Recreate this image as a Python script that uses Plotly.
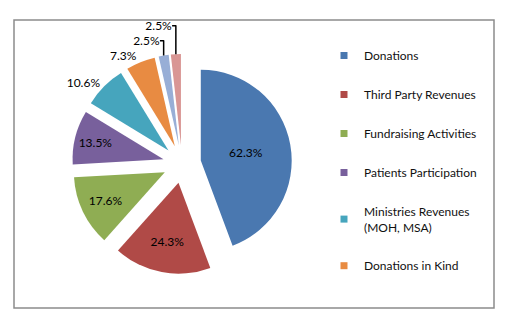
import plotly.graph_objects as go

# data
labels = ["Donations", "Third Party Revenues", "Fundraising Activities",
          "Patients Participation", "Ministries Revenues (MOH, MSA)",
          "Donations in Kind", "Other (a)", "Other (b)"]
values = [62.3, 24.3, 17.6, 13.5, 10.6, 7.3, 2.5, 2.5]
legend_labels = ["Donations", "Third Party Revenues", "Fundraising Activities",
                 "Patients Participation", "Ministries Revenues<br>(MOH, MSA)",
                 "Donations in Kind"]
colors = ["#4A78B0", "#B04A47", "#8FAD53", "#78609C", "#46A5BD",
          "#E88B42", "#98AED6", "#D99694"]
text_pos = ["inside"] * 4 + ["outside"] * 4

W, H = 528, 324
cx, cy, half = 182, 164, 110
fig = go.Figure()
fig.add_trace(go.Pie(
    labels=labels, values=values, sort=False, direction="clockwise",
    rotation=0, pull=[0.21] * len(values),
    marker=dict(colors=colors, line=dict(color="white", width=0)),
    texttemplate="%{value:.1f}%", textposition=text_pos,
    insidetextorientation="horizontal", automargin=False,
    textfont=dict(family="Lato", size=12, color="#000000"),
    showlegend=False,
    domain=dict(x=[(cx - half) / W, (cx + half) / W],
                y=[1 - (cy + half) / H, 1 - (cy - half) / H]),
))
for lab, col in zip(legend_labels, colors):
    fig.add_trace(go.Scatter(
        x=[None], y=[None], mode="markers", name=lab, legendgroup=lab,
        marker=dict(symbol="square", size=7, color=col),
    ))

fig.update_layout(
    width=W, height=H,
    margin=dict(l=0, r=0, t=0, b=0, pad=0, autoexpand=False),
    paper_bgcolor="white", plot_bgcolor="white",
    xaxis=dict(visible=False), yaxis=dict(visible=False),
    font=dict(family="Lato", size=12, color="#000000"),
    legend=dict(x=324 / W, y=1 - 41 / H, xanchor="left", yanchor="top",
                tracegroupgap=20, itemwidth=30, bgcolor="rgba(0,0,0,0)",
                font=dict(family="Lato", size=12, color="#111111")),
    shapes=[dict(type="rect", xref="paper", yref="paper",
                 x0=14 / W, x1=494 / W, y0=1 - 308 / H, y1=1 - 20 / H,
                 line=dict(color="#8C8C8C", width=1.5))],
)
fig.write_html("out.html")
